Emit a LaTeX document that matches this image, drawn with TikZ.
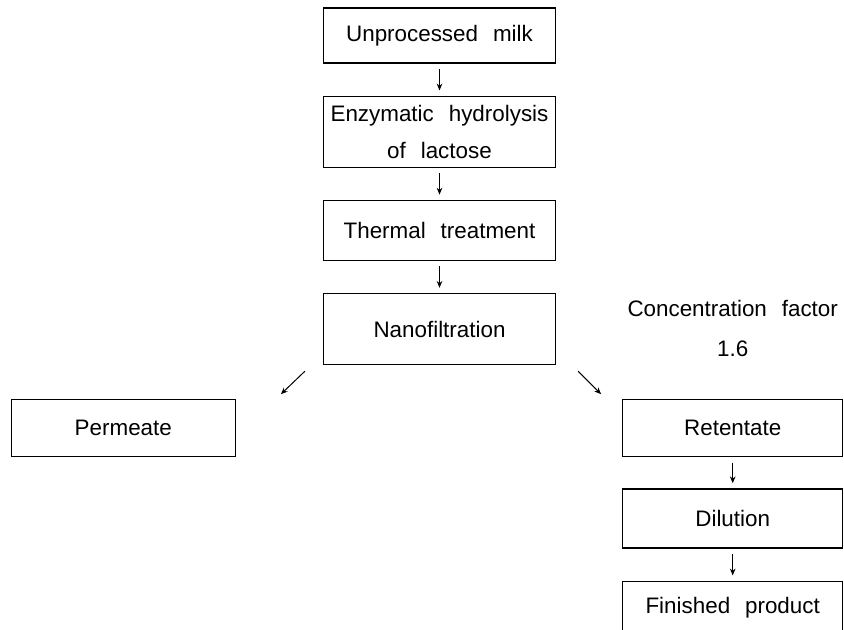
\documentclass[tikz,border=0pt]{standalone}
\usepackage{fontspec}
\setmainfont[WordSpace=2.4]{Liberation Sans}
\usetikzlibrary{positioning,arrows.meta}

\tikzset{
    stage/.style={draw, line width=0.6pt, minimum width=116pt, inner sep=0pt,
        align=center, font=\fontsize{11.2}{18.5}\selectfont},
    note/.style={inner sep=0pt, align=center, font=\fontsize{11.2}{20}\selectfont},
    flow/.style={-{Stealth[length=3.4pt,width=2.8pt]}, line width=0.5pt,
        shorten >=2.6pt, shorten <=2.6pt}
}

\begin{document}
\begin{tikzpicture}[x=1pt, y=1pt, node distance=16pt]
    \useasboundingbox (0,0) rectangle (422,-315);
    % main line
    \node[stage, minimum height=27.5pt] (milk) at (219.75,-17.75) {Unprocessed milk};
    \node[stage, minimum height=35.5pt, below=of milk] (hydro) {Enzymatic hydrolysis\\of lactose};
    \node[stage, minimum height=30pt, below=of hydro] (heat) {Thermal treatment};
    \node[stage, minimum height=35.5pt, below=of heat] (nano) {Nanofiltration};
    % the two streams
    \node[stage, minimum width=112pt, minimum height=28.5pt, below left=17pt and 43.5pt of nano] (perm) {Permeate};
    \node[stage, minimum width=110pt, minimum height=28.5pt, below right=17pt and 33pt of nano] (ret) {Retentate};
    \node[stage, minimum width=110pt, minimum height=29.5pt, below=15.5pt of ret] (dil) {Dilution};
    \node[stage, minimum width=110pt, minimum height=26.3pt, below=16pt of dil] (prod) {Finished product};
    \node[note, above=21pt of ret] (cf) {Concentration factor\\1.6};

    \coordinate (splitL) at ([shift={(-9pt,-3pt)}]nano.south west);
    \coordinate (tipL) at ([shift={(-21pt,-14.5pt)}]nano.south west);
    \coordinate (splitR) at ([shift={(11pt,-3pt)}]nano.south east);
    \coordinate (tipR) at ([shift={(22.5pt,-14.5pt)}]nano.south east);

    \draw[flow] (milk) -- (hydro);
    \draw[flow] (hydro) -- (heat);
    \draw[flow] (heat) -- (nano);
    \draw[flow, shorten <=0pt, shorten >=0pt] (splitL) -- (tipL);
    \draw[flow, shorten <=0pt, shorten >=0pt] (splitR) -- (tipR);
    \draw[flow] (ret) -- (dil);
    \draw[flow] (dil) -- (prod);
\end{tikzpicture}
\end{document}
